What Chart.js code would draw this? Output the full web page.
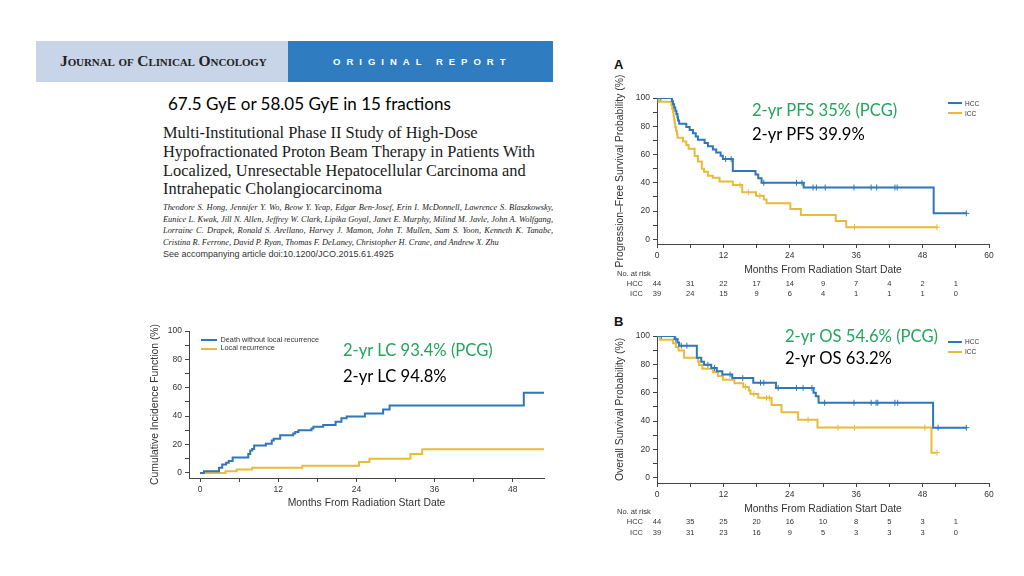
<!DOCTYPE html>
<html><head><meta charset="utf-8">
<script src="https://cdn.jsdelivr.net/npm/chart.js@4.4.0/dist/chart.umd.min.js"></script>
<style>
html,body{margin:0;padding:0;background:#fff;}
#page{position:relative;width:1024px;height:576px;overflow:hidden;font-family:'Liberation Sans',Arial,sans-serif;}
.abs{position:absolute;white-space:nowrap;}
canvas{position:absolute;}
.ttl{font-family:'Liberation Serif','Times New Roman',serif;font-size:16.4px;line-height:16px;color:#1a1a1a;left:163px;}
.auth{font-family:'Liberation Serif','Times New Roman',serif;font-style:italic;font-size:8.4px;line-height:10px;color:#222;left:163px;}
.just{width:390px;text-align:justify;text-align-last:justify;white-space:normal;}
.note{font-family:Lato,'Open Sans',sans-serif;line-height:1;}
.green{color:#22a55c;}
.blk{color:#000;}
.lg{font-size:6.5px;line-height:7px;color:#333;}
.lgl{position:absolute;height:2px;}
</style></head>
<body><div id="page">
<div class="abs" style="left:36px;top:41px;width:252px;height:41px;background:#c8d4e8"></div>
<div class="abs" style="left:288px;top:41px;width:265px;height:41px;background:#2f7cc0"></div>
<div class="abs" style="left:60px;top:53px;font-family:'Liberation Serif',serif;font-variant:small-caps;font-size:15.5px;line-height:16px;color:#222;font-weight:bold;letter-spacing:-0.1px">Journal of Clinical Oncology</div>
<div class="abs" style="left:333px;top:57px;font-size:9.5px;line-height:10px;color:#fff;letter-spacing:6px;font-weight:bold">ORIGINAL REPORT</div>

<div class="abs note blk" style="left:168px;top:95px;font-size:17px;">67.5 GyE or 58.05 GyE in 15 fractions</div>

<div class="abs ttl" style="top:125px">Multi-Institutional Phase II Study of High-Dose</div>
<div class="abs ttl" style="top:144px">Hypofractionated Proton Beam Therapy in Patients With</div>
<div class="abs ttl" style="top:163px">Localized, Unresectable Hepatocellular Carcinoma and</div>
<div class="abs ttl" style="top:181px">Intrahepatic Cholangiocarcinoma</div>

<div class="abs auth just" style="top:203px">Theodore S. Hong, Jennifer Y. Wo, Beow Y. Yeap, Edgar Ben-Josef, Erin I. McDonnell, Lawrence S. Blaszkowsky,</div>
<div class="abs auth just" style="top:214.5px">Eunice L. Kwak, Jill N. Allen, Jeffrey W. Clark, Lipika Goyal, Janet E. Murphy, Milind M. Javle, John A. Wolfgang,</div>
<div class="abs auth just" style="top:226px">Lorraine C. Drapek, Ronald S. Arellano, Harvey J. Mamon, John T. Mullen, Sam S. Yoon, Kenneth K. Tanabe,</div>
<div class="abs auth" style="top:237.5px">Cristina R. Ferrone, David P. Ryan, Thomas F. DeLaney, Christopher H. Crane, and Andrew X. Zhu</div>
<div class="abs" style="left:163px;top:249px;font-size:9px;line-height:10px;color:#333">See accompanying article doi:10.1200/JCO.2015.61.4925</div>

<div class="abs" style="left:614px;top:58px;font-size:13px;font-weight:bold;line-height:14px;color:#111">A</div>
<div class="abs" style="left:614px;top:315px;font-size:13px;font-weight:bold;line-height:14px;color:#111">B</div>

<canvas id="cA" width="424" height="245" style="left:600px;top:55px"></canvas>
<canvas id="cB" width="424" height="245" style="left:600px;top:300px"></canvas>
<canvas id="cC" width="420" height="220" style="left:140px;top:300px"></canvas>

<div class="abs note green" style="left:752px;top:102px;font-size:16.6px">2-yr PFS 35% (PCG)</div>
<div class="abs note blk" style="left:752px;top:126px;font-size:16.6px">2-yr PFS 39.9%</div>
<div class="abs note green" style="left:785px;top:328px;font-size:16.6px">2-yr OS 54.6% (PCG)</div>
<div class="abs note blk" style="left:785px;top:350px;font-size:16.6px">2-yr OS 63.2%</div>
<div class="abs note green" style="left:343px;top:342px;font-size:16.6px">2-yr LC 93.4% (PCG)</div>
<div class="abs note blk" style="left:343px;top:368px;font-size:16.6px">2-yr LC 94.8%</div>

<div class="lgl" style="left:948px;top:102px;width:14px;background:#2f77b8"></div>
<div class="abs lg" style="left:965px;top:99.5px">HCC</div>
<div class="lgl" style="left:948px;top:112px;width:14px;background:#e8bb3a"></div>
<div class="abs lg" style="left:965px;top:109.5px">ICC</div>
<div class="lgl" style="left:948px;top:340.5px;width:14px;background:#2f77b8"></div>
<div class="abs lg" style="left:965px;top:338px">HCC</div>
<div class="lgl" style="left:948px;top:350.5px;width:14px;background:#e8bb3a"></div>
<div class="abs lg" style="left:965px;top:348px">ICC</div>
<div class="lgl" style="left:201px;top:339px;width:16px;background:#2f77b8"></div>
<div class="abs" style="left:220.5px;top:335.5px;font-size:7.3px;line-height:8px;color:#333">Death without local recurrence</div>
<div class="lgl" style="left:201px;top:347.5px;width:16px;background:#e8bb3a"></div>
<div class="abs" style="left:220.5px;top:344px;font-size:7.3px;line-height:8px;color:#333">Local recurrence</div>
</div>
<script>
// ---------- data ----------
const xTicksKM = [0, 6, 12, 18, 24, 30, 36, 42, 48, 54, 60];
const xTicksCIF = [0, 6, 12, 18, 24, 30, 36, 42, 48];
const yTicks = [0, 10, 20, 30, 40, 50, 60, 70, 80, 90, 100];
const atRiskTimes = [0, 6, 12, 18, 24, 30, 36, 42, 48, 54];
const groups = ['HCC', 'ICC'];

// Panel A: progression-free survival
const pfsHccT = [0,2.7,2.9,3.1,3.3,3.5,3.7,3.8,4.0,5.3,5.9,6.5,7.0,7.4,8.6,9.2,10.1,10.7,11.5,11.9,13.7,17.8,18.3,18.9,26.5,50.0,56.0];
const pfsHccS = [100,97.7,95.5,93.2,90.9,88.6,86.4,84.1,81.8,79.5,77.3,75.0,72.7,70.5,68.2,65.9,63.6,61.4,59.1,56.8,48.3,45.8,43.2,40.0,36.7,18.4,18.4];
const pfsHccCens = [0.7,12.4,13.4,19.3,25.2,26.2,28.2,28.8,30.4,35.6,38.7,39.7,43.0,43.4,55.9];
const pfsIccT = [0,0.3,2.6,2.75,2.9,3.0,3.1,3.2,3.3,3.45,3.6,3.7,4.7,5.3,5.7,6.8,7.4,8.1,8.5,9.2,10.1,11.3,13.7,15.4,17.9,19.3,19.8,24.1,26.0,32.3,34.2,50.6];
const pfsIccS = [100,97.4,94.9,92.3,89.7,87.2,84.6,82.1,79.5,76.9,74.4,71.8,69.2,66.7,64.1,58.9,55.1,50.0,47.9,45.0,43.6,41.0,38.5,33.3,30.8,28.2,25.6,21.5,17.2,12.9,8.6,8.6];
const pfsIccCens = [15.0,16.5,18.6,35.7,50.6];
const pfsRiskHcc = [44,31,22,17,14,9,7,4,2,1];
const pfsRiskIcc = [39,24,15,9,6,4,1,1,1,0];

// Panel B: overall survival
const osHccT = [0,3.2,3.7,4.0,7.2,8.0,8.5,9.8,10.8,11.8,13.6,17.4,21.5,28.3,28.7,29.2,49.9,56.0];
const osHccS = [100,97.7,95.5,93.2,84.7,81.9,79.7,77.4,75.2,72.9,70.3,67.0,63.4,60.0,57.5,52.9,35.3,35.3];
const osHccCens = [0.8,3.4,4.4,5.4,9.2,10.4,13.2,15.5,18.7,19.3,21.9,25.2,26.4,28.0,30.3,35.6,38.7,39.6,39.9,43.0,43.5,50.8,55.9];
const osIccT = [0,0.5,2.9,3.4,3.9,4.9,7.4,7.6,8.2,10.1,11.0,11.9,14.0,15.6,16.6,16.9,18.3,20.7,22.5,25.5,29.0,49.6,50.5];
const osIccS = [100,97.4,94.9,92.3,89.7,84.6,82.0,79.5,76.9,74.4,71.8,69.2,66.7,64.1,61.5,59.0,56.4,51.3,46.2,41.0,35.4,17.7,17.7];
const osIccCens = [16.0,17.5,19.8,20.3,27.3,32.7,35.7,48.4,50.6];
const osRiskHcc = [44,35,25,20,16,10,8,5,3,1];
const osRiskIcc = [39,31,23,16,9,5,3,3,3,0];

// Panel C: cumulative incidence
const cifDeathT = [0,0.6,2.9,3.4,4.0,4.4,5.0,7.4,7.7,8.0,8.3,10.1,11.0,11.3,12.3,14.3,14.6,15.1,17.1,17.4,18.9,20.8,21.7,22.5,25.3,28.1,29.1,49.7,52.8];
const cifDeathV = [0,1.2,3.6,6.0,7.2,8.4,10.8,13.3,15.7,16.9,19.3,20.5,22.9,24.1,26.5,27.7,28.9,30.1,31.3,32.5,33.7,36.1,38.5,39.7,41.9,44.7,47.5,56.4,56.4];
const cifLrT = [0,3.9,5.6,8.0,15.7,24.4,26.0,32.3,34.1,52.8];
const cifLrV = [0,1.2,2.4,3.7,5.0,7.6,10.0,13.3,16.6,16.6];

// ---------- styling / helpers ----------
const BLUE = '#2f77b8', GOLD = '#e8bb3a', AX = '#444', TXT = '#333';
const FONT = "'Liberation Sans', Arial, sans-serif";
Chart.defaults.font.family = FONT;
Chart.defaults.color = TXT;

const pts = (T, V) => T.map((t, i) => ({x: t, y: V[i]}));
const levelAt = (T, V, t) => { let v = V[0]; for (let i = 0; i < T.length; i++) { if (T[i] <= t) v = V[i]; } return v; };
const cens = (C, T, V) => C.map(t => ({x: t, y: levelAt(T, V, t)}));

function stepDs(label, data, color) {
  return {label, data, borderColor: color, borderWidth: 2, stepped: true, pointRadius: 0, fill: false, tension: 0, borderJoinStyle: 'miter'};
}
function censDs(data, color) {
  return {label: '', data, showLine: false, pointStyle: 'cross', pointRadius: 3, pointBorderWidth: 1, borderColor: color, backgroundColor: color};
}

const atRiskPlugin = {
  id: 'atRisk',
  afterDraw(chart, args, o) {
    if (!o || !o.rows) return;
    const ctx = chart.ctx, xs = chart.scales.x;
    ctx.save();
    ctx.font = '7.5px ' + FONT;
    ctx.fillStyle = TXT;
    ctx.textBaseline = 'middle';
    ctx.textAlign = 'left';
    ctx.fillText(o.heading, o.headX, o.headY);
    o.rows.forEach((r, i) => {
      const y = o.rowY[i];
      ctx.textAlign = 'right';
      ctx.fillText(r.label, o.labelX, y);
      ctx.textAlign = 'center';
      r.values.forEach((v, j) => ctx.fillText(String(v), xs.getPixelForValue(atRiskTimes[j]), y));
    });
    ctx.restore();
  }
};

function scales(cfg) {
  return {
    x: {
      type: 'linear', min: cfg.xmin, max: cfg.xmax,
      afterBuildTicks: s => { s.ticks = cfg.xTicks.map(v => ({value: v})); },
      afterFit: s => { s.height = cfg.xh; },
      ticks: {autoSkip: false, maxRotation: 0, padding: 3, font: {size: 8.5}, color: TXT,
              callback: v => (v % 12 === 0 ? String(v) : '')},
      grid: {drawOnChartArea: false, drawTicks: true, tickLength: 4, color: AX, lineWidth: 1},
      border: {display: true, color: AX, width: 1},
      title: {display: true, text: 'Months From Radiation Start Date', font: {size: 10.4}, color: TXT, padding: 0}
    },
    y: {
      type: 'linear', min: cfg.ymin, max: 100,
      afterBuildTicks: s => { s.ticks = yTicks.map(v => ({value: v})); },
      afterFit: s => { s.width = cfg.yw; },
      ticks: {autoSkip: false, padding: 3, font: {size: 8.5}, color: TXT,
              callback: v => (v % 20 === 0 ? String(v) : '')},
      grid: {drawOnChartArea: false, drawTicks: true, tickLength: 4, color: AX, lineWidth: 1},
      border: {display: true, color: AX, width: 1},
      title: {display: true, text: cfg.ytitle, font: {size: 10.4}, color: TXT, padding: {top: cfg.ytp, bottom: 0}}
    }
  };
}

function baseOpts(cfg, pad, atRisk) {
  return {
    responsive: false, animation: false, devicePixelRatio: 1,
    layout: {padding: pad},
    plugins: {legend: {display: false}, tooltip: {enabled: false}, atRisk: atRisk},
    scales: scales(cfg)
  };
}

// Panel A
new Chart(document.getElementById('cA'), {
  type: 'line',
  data: {datasets: [
    stepDs(groups[0], pts(pfsHccT, pfsHccS), BLUE),
    stepDs(groups[1], pts(pfsIccT, pfsIccS), GOLD),
    censDs(cens(pfsHccCens, pfsHccT, pfsHccS), BLUE),
    censDs(cens(pfsIccCens, pfsIccT, pfsIccS), GOLD)
  ]},
  options: baseOpts({xmin: 0, xmax: 60, ymin: -3.3, xTicks: xTicksKM, xh: 32, yw: 57, ytp: 14,
                     ytitle: 'Progression\u2013Free Survival Probability (%)'},
                    {left: 0, top: 43, right: 35, bottom: 24},
                    {heading: 'No. at risk', headX: 17, headY: 219, labelX: 43, rowY: [229, 239],
                     rows: [{label: groups[0], values: pfsRiskHcc}, {label: groups[1], values: pfsRiskIcc}]}),
  plugins: [atRiskPlugin]
});

// Panel B
new Chart(document.getElementById('cB'), {
  type: 'line',
  data: {datasets: [
    stepDs(groups[0], pts(osHccT, osHccS), BLUE),
    stepDs(groups[1], pts(osIccT, osIccS), GOLD),
    censDs(cens(osHccCens, osHccT, osHccS), BLUE),
    censDs(cens(osIccCens, osIccT, osIccS), GOLD)
  ]},
  options: baseOpts({xmin: 0, xmax: 60, ymin: -3.7, xTicks: xTicksKM, xh: 32, yw: 57, ytp: 14,
                     ytitle: 'Overall Survival Probability (%)'},
                    {left: 0, top: 36, right: 35, bottom: 30},
                    {heading: 'No. at risk', headX: 17, headY: 212, labelX: 43, rowY: [222, 233],
                     rows: [{label: groups[0], values: osRiskHcc}, {label: groups[1], values: osRiskIcc}]}),
  plugins: [atRiskPlugin]
});

// Panel C
new Chart(document.getElementById('cC'), {
  type: 'line',
  data: {datasets: [
    stepDs('Death without local recurrence', pts(cifDeathT, cifDeathV), BLUE),
    stepDs('Local recurrence', pts(cifLrT, cifLrV), GOLD)
  ]},
  options: baseOpts({xmin: -1.7, xmax: 52.8, ymin: -3.6, xTicks: xTicksCIF, xh: 31, yw: 49, ytp: 9,
                     ytitle: 'Cumulative Incidence Function (%)'},
                    {left: 0, top: 31, right: 16, bottom: 11}, null),
  plugins: [atRiskPlugin]
});
</script>
</body></html>
